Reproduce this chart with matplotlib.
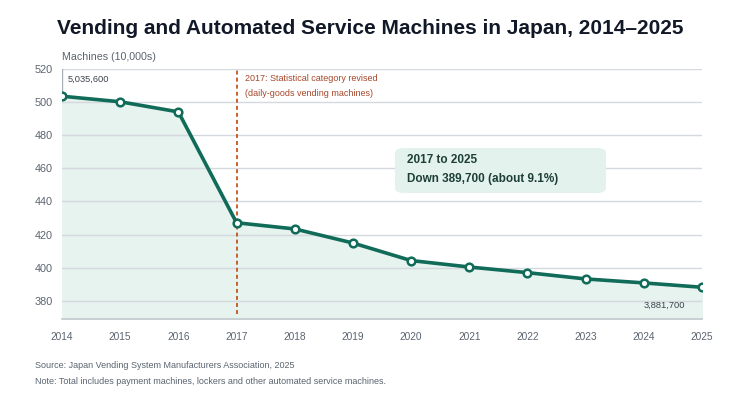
import matplotlib
matplotlib.use("Agg")
import matplotlib.pyplot as plt
from matplotlib.patches import FancyBboxPatch

plt.rcParams['font.family'] = ['Liberation Sans', 'DejaVu Sans']

years = [2014, 2015, 2016, 2017, 2018, 2019, 2020, 2021, 2022, 2023, 2024, 2025]
machines = [503.56, 500.2, 494.1, 427.14, 423.4, 414.9, 404.3, 400.4, 397.0, 393.2, 390.8, 388.17]
yticks = [380, 400, 420, 440, 460, 480, 500, 520]

W, H = 740, 416
fig = plt.figure(figsize=(W/100, H/100), dpi=100)
ax = fig.add_axes([62/W, 1-319/H, (702-62)/W, (319-69)/H])

line_c = '#106b58'
fill_c = '#e6f3ef'
grid_c = '#d5d9de'
tick_c = '#5b6470'

ax.fill_between(years, machines, 369, color=fill_c, zorder=1)
ax.plot(years, machines, color=line_c, lw=2.6, zorder=3,
        marker='o', ms=5.5, mfc='white', mec=line_c, mew=1.8)
ax.set_xlim(2014, 2025)
ax.set_ylim(369, 520)
ax.set_yticks(yticks)
ax.set_xticks(years)
ax.grid(axis='y', color=grid_c, lw=1, zorder=0)
for s in ['left', 'right', 'top']:
    ax.spines[s].set_visible(False)
ax.spines['bottom'].set_color('#c4c9cf')
ax.spines['bottom'].set_linewidth(1.2)
ax.tick_params(axis='both', length=0, colors=tick_c)
ax.tick_params(axis='x', pad=9, labelsize=7.3)
ax.tick_params(axis='y', pad=6.5, labelsize=7.8)

# 2017 revision marker
ax.axvline(2017, color='#c4561d', lw=1.3, ls=(0, (2.2, 1.7)), zorder=2, ymin=0.02)
ax.text(2017.15, 514.5, '2017: Statistical category revised', color='#a6472a', fontsize=6.5, va='center')
ax.text(2017.15, 505.2, '(daily-goods vending machines)', color='#a6472a', fontsize=6.5, va='center')

# value labels
ax.plot([2014, 2014], [503.56, 520], color='#aab0b8', lw=1, zorder=2)
ax.text(2014.1, 513.5, '5,035,600', color='#3c434c', fontsize=6.7, va='center')
ax.text(2024.71, 377.5, '3,881,700', color='#3c434c', fontsize=6.7, va='center', ha='right')

# callout box
box = FancyBboxPatch((395/W, 1-193/H), (606-395)/W, (193-148)/H,
                     boxstyle='round,pad=0,rounding_size=0.012',
                     transform=fig.transFigure, facecolor='#e4f2ee', edgecolor='none', zorder=5)
fig.patches.append(box)
fig.text(407/W, 1-160/H, '2017 to 2025', fontsize=8.5, fontweight='bold', color='#1d3f36', va='center', zorder=6)
fig.text(407/W, 1-179/H, 'Down 389,700 (about 9.1%)', fontsize=8.5, fontweight='bold', color='#1d3f36', va='center', zorder=6)

fig.text(370/W, 1-29/H, 'Vending and Automated Service Machines in Japan, 2014\u20132025',
         ha='center', va='center', fontsize=15, fontweight='bold', color='#111827')
fig.text(62/W, 1-57/H, 'Machines (10,000s)', fontsize=7.7, color=tick_c, va='center')
fig.text(35/W, 1-365/H, 'Source: Japan Vending System Manufacturers Association, 2025', fontsize=6.5, color=tick_c, va='center')
fig.text(35/W, 1-381/H, 'Note: Total includes payment machines, lockers and other automated service machines.', fontsize=6.5, color=tick_c, va='center')

fig.savefig('out.png', dpi=100, facecolor='white')
